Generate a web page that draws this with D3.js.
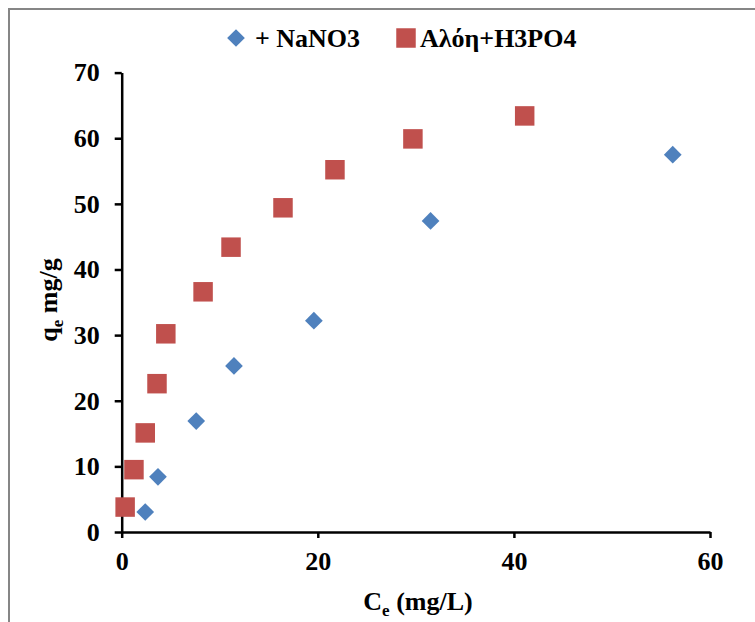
<!DOCTYPE html>
<html>
<head>
<meta charset="utf-8">
<script src="https://cdn.jsdelivr.net/npm/d3@7"></script>
<style>
  body { margin: 0; background: #fff; }
  svg { display: block; font-family: 'Liberation Serif', 'Times New Roman', serif; font-weight: bold; }
</style>
</head>
<body>
<div id="chart"></div>
<script>
'use strict'

// series
const nanoCe = [2.4, 3.7, 7.6, 11.45, 19.6, 31.5, 56.2],
    nanoQe = [3.05, 8.4, 16.9, 25.3, 32.2, 47.4, 57.5]

const aloeCe = [0.35, 1.25, 2.4, 3.6, 4.5, 8.3, 11.15, 16.45, 21.75, 29.7, 41.1],
    aloeQe = [3.8, 9.5, 15.1, 22.6, 30.2, 36.6, 43.4, 49.4, 55.2, 59.9, 63.4]

const seriesNames = ['+ NaNO3', 'Αλόη+H3PO4']
const xTicks = [0, 20, 40, 60],
    yTicks = [0, 10, 20, 30, 40, 50, 60, 70]

const width = 755,
    height = 622,
    blue = '#4f81bd',
    red = '#c0504d'

const svg = d3.select('#chart')
    .append('svg')
    .attr('width', width)
    .attr('height', height)

// outer frame (only top and left show)
svg.append('rect')
    .attr('x', 9).attr('y', 9)
    .attr('width', width + 10).attr('height', height + 10)
    .attr('fill', 'none')
    .attr('stroke', '#868686')
    .attr('stroke-width', 2)

const x = d3.scaleLinear().domain([0, 60]).range([121.7, 710])
const y = d3.scaleLinear().domain([0, 70]).range([532, 72.6])

const xAxis = svg.append('g')
    .attr('transform', `translate(0,${y(0)})`)
    .call(d3.axisBottom(x).tickValues(xTicks).tickSize(6).tickPadding(14).tickSizeOuter(0))

const yAxis = svg.append('g')
    .attr('transform', `translate(${x(0)},0)`)
    .call(d3.axisLeft(y).tickValues(yTicks).tickSize(7).tickPadding(15).tickSizeOuter(0))

for (const ax of [xAxis, yAxis]) {
    ax.select('.domain').attr('stroke', '#000').attr('stroke-width', 2.5)
    ax.selectAll('.tick line').attr('stroke', '#000').attr('stroke-width', 2.5)
    ax.selectAll('.tick text')
        .attr('fill', '#000')
        .style('font-size', '26px')
        .style('font-family', "'Liberation Serif', serif")
        .style('font-weight', 'bold')
}
xAxis.selectAll('.tick text').attr('dy', '0.71em')

// axis titles
const xTitle = svg.append('text')
    .attr('x', 418).attr('y', 610)
    .attr('text-anchor', 'middle')
    .style('font-size', '26px')
xTitle.append('tspan').text('C')
xTitle.append('tspan').attr('dy', 6).style('font-size', '17px').text('e')
xTitle.append('tspan').attr('dy', -6).text(' (mg/L)')

const yTitle = svg.append('text')
    .attr('transform', 'translate(57,300) rotate(-90)')
    .attr('text-anchor', 'middle')
    .style('font-size', '26px')
yTitle.append('tspan').text('q')
yTitle.append('tspan').attr('dy', 6).style('font-size', '17px').text('e')
yTitle.append('tspan').attr('dy', -6).text(' mg/g')

// markers
const diamond = d3.symbol().type(d3.symbolDiamond2).size(200)
const square = d3.symbol().type(d3.symbolSquare).size(380)

svg.append('g').selectAll('path')
    .data(d3.zip(aloeCe, aloeQe))
    .join('path')
    .attr('d', square)
    .attr('transform', d => `translate(${x(d[0])},${y(d[1])})`)
    .attr('fill', red)

svg.append('g').selectAll('path')
    .data(d3.zip(nanoCe, nanoQe))
    .join('path')
    .attr('d', diamond)
    .attr('transform', d => `translate(${x(d[0])},${y(d[1])})`)
    .attr('fill', blue)

// legend
const legend = svg.append('g').style('font-size', '26px')
legend.append('path').attr('d', diamond).attr('fill', blue)
    .attr('transform', 'translate(236,38)')
legend.append('text').attr('x', 255).attr('y', 47).text(seriesNames[0])
legend.append('path').attr('d', square).attr('fill', red)
    .attr('transform', 'translate(406,38)')
legend.append('text').attr('x', 420).attr('y', 47).text(seriesNames[1])
</script>
</body>
</html>
